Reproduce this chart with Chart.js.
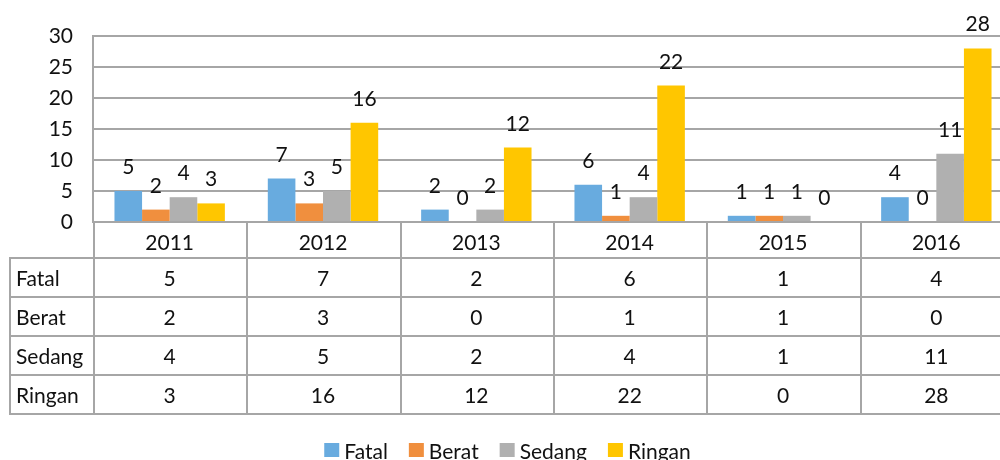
<!DOCTYPE html>
<html>
<head>
<meta charset="utf-8">
<script src="https://cdn.jsdelivr.net/npm/chart.js@4.4.0/dist/chart.umd.min.js"></script>
<style>
  html, body { margin: 0; padding: 0; background: #fff; overflow: hidden; }
  #wrap { position: absolute; left: 0; top: 0; width: 1015px; height: 460px; }
</style>
</head>
<body>
<div id="wrap"><canvas id="chart"></canvas></div>
<script>
const years = ['2011', '2012', '2013', '2014', '2015', '2016'];
const seriesNames = ['Fatal', 'Berat', 'Sedang', 'Ringan'];
const fatal = [5, 7, 2, 6, 1, 4];
const berat = [2, 3, 0, 1, 1, 0];
const sedang = [4, 5, 2, 4, 1, 11];
const ringan = [3, 16, 12, 22, 0, 28];
const yTicks = [0, 5, 10, 15, 20, 25, 30];

const FONT = 'Lato, "Open Sans", sans-serif';
const TEXT = '#111';
const LINE = '#a6a6a6';
const HEAD_H = 36;
const ROW_H = 39;
const TABLE_LEFT = 10;

// labels on top of each bar
const valueLabels = {
  id: 'valueLabels',
  afterDatasetsDraw(chart) {
    const ctx = chart.ctx;
    ctx.save();
    ctx.font = '21px ' + FONT;
    ctx.fillStyle = TEXT;
    ctx.textAlign = 'center';
    ctx.textBaseline = 'alphabetic';
    chart.data.datasets.forEach((ds, i) => {
      chart.getDatasetMeta(i).data.forEach((bar, j) => {
        ctx.fillText(ds.data[j], bar.x, bar.y - 17);
      });
    });
    ctx.restore();
  }
};

// data table under the x axis, legend below it
const dataTable = {
  id: 'dataTable',
  afterDraw(chart) {
    const ctx = chart.ctx;
    const x = chart.scales.x;
    const half = (x.getPixelForValue(1) - x.getPixelForValue(0)) / 2;
    const left = x.getPixelForValue(0) - half + 1;
    const right = x.getPixelForValue(years.length - 1) + half;
    const top = chart.chartArea.bottom;
    const bodyTop = top + HEAD_H;
    const rows = chart.data.datasets;
    const bottom = bodyTop + ROW_H * rows.length;

    ctx.save();
    ctx.strokeStyle = LINE;
    ctx.lineWidth = 2;
    ctx.beginPath();
    for (let i = 0; i <= years.length; i++) {
      const xx = Math.round(left + i * 2 * half);
      ctx.moveTo(xx, top);
      ctx.lineTo(xx, bottom);
    }
    for (let r = 0; r <= rows.length; r++) {
      const yy = bodyTop + r * ROW_H;
      ctx.moveTo(TABLE_LEFT - 1, yy);
      ctx.lineTo(right, yy);
    }
    ctx.moveTo(TABLE_LEFT, bodyTop);
    ctx.lineTo(TABLE_LEFT, bottom);
    ctx.stroke();

    ctx.font = '21px ' + FONT;
    ctx.fillStyle = TEXT;
    ctx.textBaseline = 'middle';
    ctx.textAlign = 'center';
    years.forEach((yr, i) => {
      ctx.fillText(yr, x.getPixelForValue(i), top + HEAD_H / 2 + 3);
    });
    rows.forEach((ds, r) => {
      const cy = bodyTop + r * ROW_H + ROW_H / 2 + 2;
      ctx.textAlign = 'left';
      ctx.fillText(ds.label, TABLE_LEFT + 6, cy);
      ctx.textAlign = 'center';
      ds.data.forEach((v, i) => ctx.fillText(v, x.getPixelForValue(i), cy));
    });

    // legend
    const boxW = 15, boxH = 14, gap = 5, itemGap = 21;
    const widths = rows.map((ds) => boxW + gap + ctx.measureText(ds.label).width);
    const total = widths.reduce((a, b) => a + b, 0) + itemGap * (rows.length - 1);
    let lx = chart.width / 2 - total / 2;
    const ly = bottom + 36;
    ctx.textAlign = 'left';
    rows.forEach((ds, r) => {
      ctx.fillStyle = ds.backgroundColor;
      ctx.fillRect(lx, ly - boxH / 2, boxW, boxH);
      ctx.fillStyle = TEXT;
      ctx.fillText(ds.label, lx + boxW + gap, ly + 2);
      lx += widths[r] + itemGap;
    });
    ctx.restore();
  }
};

new Chart(document.querySelector('#chart').getContext('2d'), {
  type: 'bar',
  data: {
    labels: years,
    datasets: [
      { label: seriesNames[0], data: fatal, backgroundColor: '#68abdf' },
      { label: seriesNames[1], data: berat, backgroundColor: '#f08f3e' },
      { label: seriesNames[2], data: sedang, backgroundColor: '#b0b0b0' },
      { label: seriesNames[3], data: ringan, backgroundColor: '#ffc600' },
    ],
  },
  options: {
    responsive: true,
    maintainAspectRatio: false,
    animation: false,
    events: [],
    layout: { padding: { top: 36, right: 2, left: 0, bottom: 44 } },
    datasets: { bar: { barPercentage: 1, categoryPercentage: 0.72 } },
    scales: {
      x: {
        grid: { display: false },
        border: { display: false },
        ticks: { display: false },
        afterFit: (scale) => { scale.height = 194; },
      },
      y: {
        min: 0,
        max: 30,
        afterBuildTicks: (scale) => { scale.ticks = yTicks.map((v) => ({ value: v })); },
        afterFit: (scale) => { scale.width = 93; },
        grid: { color: LINE, lineWidth: 2, drawTicks: false },
        border: { display: true, color: LINE, width: 2 },
        ticks: { padding: 20, color: TEXT, font: { family: FONT, size: 21 } },
      },
    },
    plugins: {
      tooltip: { enabled: false },
      legend: { display: false },
    },
  },
  plugins: [valueLabels, dataTable],
});
</script>
</body>
</html>
